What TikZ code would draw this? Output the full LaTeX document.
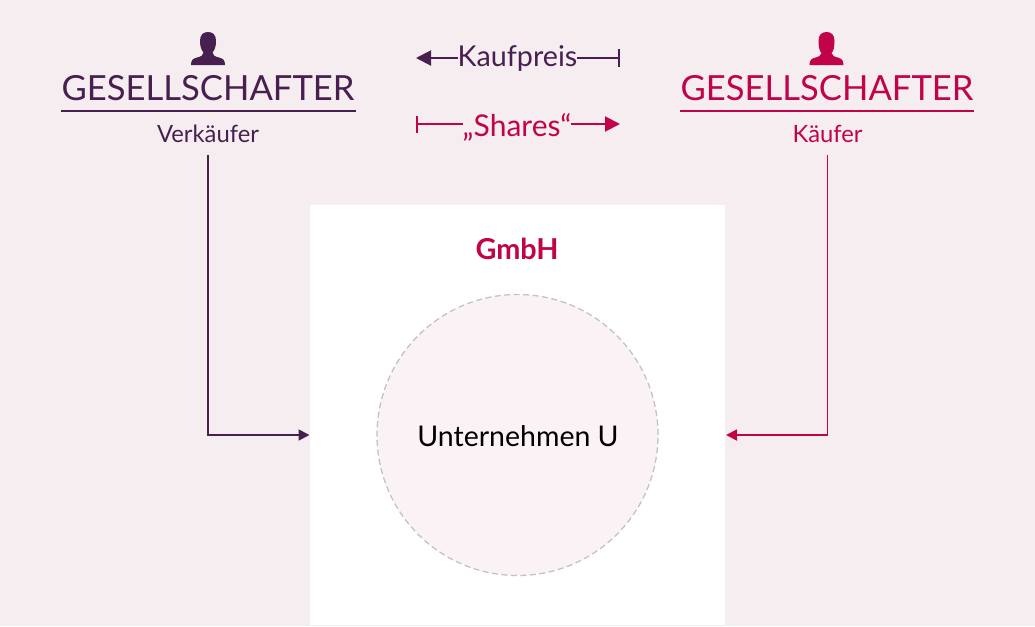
\documentclass[tikz,border=0pt]{standalone}
\usepackage{fontspec}
\setmainfont{Lato}
\usetikzlibrary{arrows.meta,calc}
\definecolor{bgc}{HTML}{F6EDF1}
\definecolor{plum}{HTML}{47204F}
\definecolor{crim}{HTML}{C1044A}
\definecolor{circ}{HTML}{FBF2F5}
\definecolor{dashc}{HTML}{C4C2C3}
\tikzset{
  txt/.style={inner sep=0pt,outer sep=0pt,anchor=center},
  title/.style={txt,font=\fontsize{34.6}{38}\selectfont},
  sub/.style={txt,font=\fontsize{23.8}{28}\selectfont},
  big/.style={txt,font=\fontsize{28.7}{32}\selectfont},
  flowtip/.style={line width=1.8pt,-{Triangle[length=11pt,width=11pt]}},
  toptip/.style={line width=2pt,-{Triangle[length=15pt,width=15pt]}},
  bar/.style={line width=2pt,-{Bar[width=17pt,line width=2pt]}},
}
\begin{document}
\begin{tikzpicture}[x=1pt,y=-1pt]
\useasboundingbox (0,0) rectangle (1035,626);
\fill[bgc] (0,0) rectangle (1035,626);
% white box
\node[draw=none,fill=white,minimum width=415pt,minimum height=420pt,inner sep=0pt,outer sep=0pt] (box) at (517.5,415) {};
\node[draw=dashc,dashed,dash pattern=on 6pt off 3.5pt,line width=1.3pt,fill=circ,circle,minimum size=281pt,inner sep=0pt,outer sep=0pt] (unt) at (517.5,435) {};
\node[txt,font=\fontsize{28.5}{32}\selectfont,text=black] (untl) at (518,436) {Unternehmen U};
\node[txt,font=\fontsize{28.8}{32}\bfseries\selectfont,text=crim] (gmbh) at (517,249) {GmbH};
% left person
\fill[plum] (191,65) .. controls (191,60) and (193,58.5) .. (197,57.5)
  .. controls (201,56.5) and (203.5,55.5) .. (203.5,52.5)
  .. controls (201,49.5) and (200,46) .. (200,41)
  .. controls (200,35) and (203,32) .. (208,32)
  .. controls (213,32) and (216,35) .. (216,41)
  .. controls (216,46) and (215,49.5) .. (212.5,52.5)
  .. controls (212.5,55.5) and (215,56.5) .. (219,57.5)
  .. controls (223,58.5) and (225,60) .. (225,65) -- cycle;
% right person
\fill[crim] (809.5,65) .. controls (809.5,60) and (811.5,58.5) .. (815.5,57.5)
  .. controls (819,56.5) and (821,55.5) .. (821.5,53)
  .. controls (819.5,52) and (818.5,46) .. (818.5,41)
  .. controls (818.5,35) and (821.5,32) .. (826.5,32)
  .. controls (831.5,32) and (834.5,35) .. (834.5,41)
  .. controls (834.5,46) and (833.5,52) .. (831.5,53)
  .. controls (832,55.5) and (834,56.5) .. (837.5,57.5)
  .. controls (841.5,58.5) and (843.5,60) .. (843.5,65) -- cycle;
% titles
\node[title,text=plum] (gl) at (208,88) {GESELLSCHAFTER};
\node[title,text=crim] (gr) at (827,88) {GESELLSCHAFTER};
\coordinate (ula) at (61,111); \coordinate (ulb) at (355.5,111);
\coordinate (ura) at (680,111); \coordinate (urb) at (974,111);
\draw[plum,line width=2pt] (ula) -- (ulb);
\draw[crim,line width=2pt] (ura) -- (urb);
\node[sub,text=plum,minimum height=42pt] (verk) at (208,134) {Verkäufer};
\node[sub,text=crim,minimum height=42pt] (kaeu) at (827.5,134) {Käufer};
% flow connectors
\draw[plum,flowtip] (verk.south) |- ($(box.west |- unt.center)+(-0.5,0)$);
\draw[crim,flowtip] (kaeu.south) |- ($(box.east |- unt.center)+(1,0)$);
% top labels
\node[big,text=plum] (kauf) at (517.5,58) {Kaufpreis};
\node[txt,font=\fontsize{30}{34}\selectfont,text=crim] (shar) at (517,127) {„Shares“};
\coordinate (kl) at (416,58); \coordinate (kr) at (620,58);
\coordinate (sl) at (416,124); \coordinate (sr) at (620,124);
\draw[plum,toptip] (kauf.west |- kl) -- (kl);
\draw[plum,bar] (kauf.east |- kr) -- (kr);
\draw[crim,bar] (shar.west |- sl) -- (sl);
\draw[crim,toptip] (shar.east |- sr) -- (sr);
\end{tikzpicture}
\end{document}
